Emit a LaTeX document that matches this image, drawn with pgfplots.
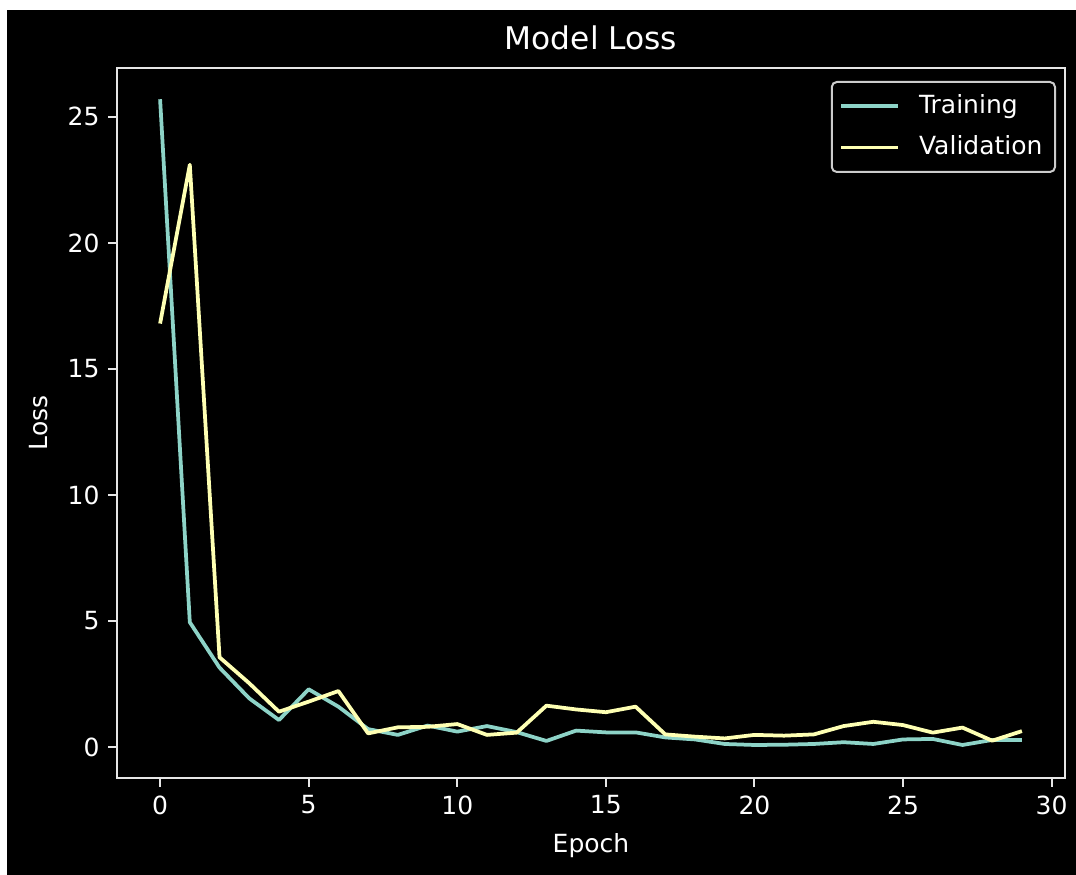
\documentclass[border=0pt]{standalone}
\usepackage{fontspec}
\setmainfont{DejaVu Sans}
\usepackage{pgfplots}
\pgfplotsset{compat=1.18}
\definecolor{trainc}{HTML}{8DD3C7}
\definecolor{validc}{HTML}{FEFFB3}
\definecolor{spinec}{HTML}{E6E6E6}
\definecolor{legedge}{HTML}{CCCCCC}
\pgfplotstableread{
epoch loss
0 25.7
1 4.95
2 3.15
3 1.93
4 1.07
5 2.29
6 1.60
7 0.71
8 0.48
9 0.85
10 0.61
11 0.83
12 0.59
13 0.24
14 0.65
15 0.58
16 0.58
17 0.38
18 0.30
19 0.12
20 0.08
21 0.09
22 0.12
23 0.19
24 0.12
25 0.30
26 0.32
27 0.08
28 0.28
29 0.28
}\traindata
\pgfplotstableread{
epoch loss
0 16.8
1 23.1
2 3.56
3 2.53
4 1.40
5 1.80
6 2.22
7 0.54
8 0.78
9 0.80
10 0.91
11 0.48
12 0.57
13 1.64
14 1.49
15 1.38
16 1.60
17 0.50
18 0.41
19 0.34
20 0.48
21 0.45
22 0.50
23 0.83
24 1.00
25 0.87
26 0.57
27 0.77
28 0.25
29 0.63
}\validdata
\begin{document}
\begin{tikzpicture}
\fill[white] (0,0) rectangle (430.4pt,350pt);
\fill[black] (2.8pt,0) rectangle (430.4pt,346pt);
\begin{axis}[
  at={(46.8pt,38.8pt)}, anchor=south west,
  scale only axis, width=379.2pt, height=284pt,
  xmin=-1.45, xmax=30.45, ymin=-1.23, ymax=26.94,
  xtick={0,5,...,30}, ytick={0,5,...,25},
  tick align=outside, xtick pos=bottom, ytick pos=left,
  major tick length=3.5pt,
  axis line style={spinec, line width=0.8pt},
  every tick/.style={spinec, line width=0.8pt},
  ticklabel style={white, font=\fontsize{10}{12}\selectfont},
  /pgf/number format/assume math mode=true,
  every axis title shift=0pt,
  title={Model Loss},
  title style={white, font=\fontsize{12.5}{15}\selectfont, at={(axis description cs:0.5,1.0254)}, anchor=base},
  xlabel={Epoch}, ylabel={Loss},
  xlabel style={white, font=\fontsize{10}{12}\selectfont, at={(axis description cs:0.5,-0.1056)}, anchor=base},
  ylabel style={white, font=\fontsize{10}{12}\selectfont, at={(axis description cs:-0.0738,0.5)}, anchor=base},
  legend style={at={(axis description cs:1,1)}, anchor=north east, xshift=-3.6pt, yshift=-5.2pt,
    fill=black, draw=legedge, text=white, rounded corners=2pt, line width=0.8pt,
    font=\fontsize{10}{12}\selectfont, inner xsep=3pt, inner ysep=2.5pt, row sep=2pt,
    nodes={inner sep=2pt, text height=8pt, text depth=2.5pt},
    /tikz/every odd column/.append style={column sep=5.6pt}},
  legend cell align=left,
  legend image code/.code={\draw[#1] (0pt,0pt) -- (22.8pt,0pt);},
]
\addplot[trainc, line width=1.5pt, line join=round] table[x=epoch, y=loss] {\traindata};
\addlegendentry{Training}
\addplot[validc, line width=1.5pt, line join=round] table[x=epoch, y=loss] {\validdata};
\addlegendentry{Validation}
\end{axis}
\end{tikzpicture}
\end{document}
